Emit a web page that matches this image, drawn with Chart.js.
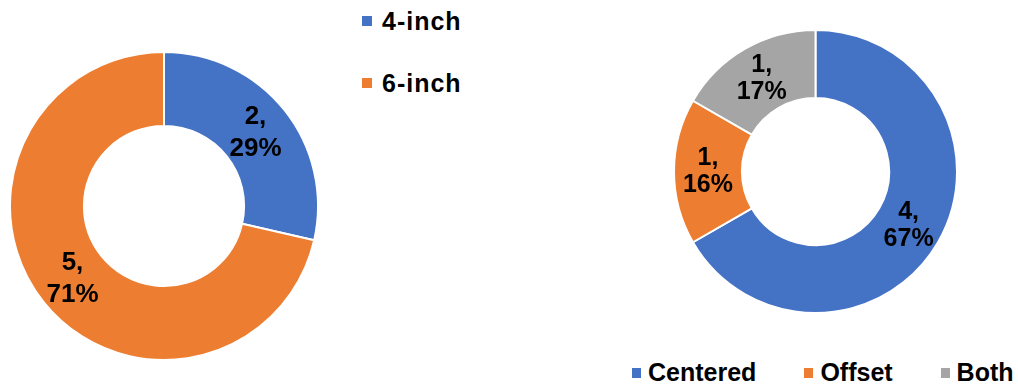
<!DOCTYPE html>
<html>
<head>
<meta charset="utf-8">
<script src="https://cdn.jsdelivr.net/npm/chart.js@4/dist/chart.umd.min.js"></script>
<style>
  html, body { margin: 0; padding: 0; background: #fff; }
  body { width: 1018px; height: 387px; position: relative; overflow: hidden;
         font-family: "Liberation Sans", Arial, sans-serif; font-weight: bold; color: #000; }
  .box { position: absolute; }
  .legend { position: absolute; display: flex; }
  .legend .item { display: flex; align-items: center; white-space: nowrap; }
  .legend .sw { width: 10px; height: 10px; display: inline-block; }
  #legendSize { flex-direction: column; left: 362px; top: 2px; font-size: 25px; letter-spacing: 1px; }
  #legendSize .item { height: 38px; margin-bottom: 24px; }
  #legendSize .sw { margin-right: 10px; }
  #legendPos { flex-direction: row; left: 632px; top: 358px; font-size: 25px; }
  #legendPos .item { margin-right: 48px; }
  #legendPos .item:last-child { margin-right: 0; }
  #legendPos .sw { width: 9px; height: 10px; margin-right: 7px; }
</style>
</head>
<body>
<div class="box" id="boxSize" style="left:9px; top:51px; width:310px; height:310px;"><canvas id="chartSize"></canvas></div>
<div class="box" id="boxPos" style="left:673px; top:29px; width:285px; height:285px;"><canvas id="chartPos"></canvas></div>
<div class="legend" id="legendSize"></div>
<div class="legend" id="legendPos"></div>
<script>
// Pipe size split
const sizeLabels = ['4-inch', '6-inch'];
const sizeCounts = [2, 5];
const sizePercents = ['29%', '71%'];
const sizeColors = ['#4472C4', '#ED7D31'];

// Placement split
const posLabels = ['Centered', 'Offset', 'Both'];
const posCounts = [4, 1, 1];
const posPercents = ['67%', '16%', '17%'];
const posColors = ['#4472C4', '#ED7D31', '#A5A5A5'];

// Draws "count," and "percent" on two lines at each slice's centroid
const sliceLabels = {
  id: 'sliceLabels',
  afterDatasetsDraw(chart, args, opts) {
    const ctx = chart.ctx;
    const meta = chart.getDatasetMeta(0);
    const values = chart.data.datasets[0].data;
    ctx.save();
    ctx.fillStyle = '#000';
    ctx.font = 'bold ' + opts.size + 'px "Liberation Sans", Arial, sans-serif';
    ctx.textAlign = 'center';
    ctx.textBaseline = 'middle';
    meta.data.forEach((arc, i) => {
      const p = arc.tooltipPosition();
      const half = opts.lineHeight / 2;
      ctx.fillText(values[i] + ',', p.x, p.y - half);
      ctx.fillText(opts.percents[i], p.x, p.y + half);
    });
    ctx.restore();
  }
};

function makeDoughnut(id, labels, counts, colors, percents, size, lineHeight) {
  return new Chart(document.getElementById(id), {
    type: 'doughnut',
    data: {
      labels: labels,
      datasets: [{
        data: counts,
        backgroundColor: colors,
        borderColor: '#ffffff',
        borderWidth: 2,
        hoverOffset: 0
      }]
    },
    options: {
      responsive: true,
      maintainAspectRatio: false,
      animation: false,
      cutout: '52%',
      layout: { padding: 0 },
      plugins: {
        legend: { display: false },
        tooltip: { enabled: false },
        sliceLabels: { percents: percents, size: size, lineHeight: lineHeight }
      }
    },
    plugins: [sliceLabels]
  });
}

function makeLegend(id, labels, colors) {
  const el = document.getElementById(id);
  labels.forEach((t, i) => {
    const item = document.createElement('div');
    item.className = 'item';
    const sw = document.createElement('span');
    sw.className = 'sw';
    sw.style.background = colors[i];
    const tx = document.createElement('span');
    tx.textContent = t;
    item.appendChild(sw);
    item.appendChild(tx);
    el.appendChild(item);
  });
}

makeDoughnut('chartSize', sizeLabels, sizeCounts, sizeColors, sizePercents, 26, 32);
makeDoughnut('chartPos', posLabels, posCounts, posColors, posPercents, 25, 27);
makeLegend('legendSize', sizeLabels, sizeColors);
makeLegend('legendPos', posLabels, posColors);
</script>
</body>
</html>
